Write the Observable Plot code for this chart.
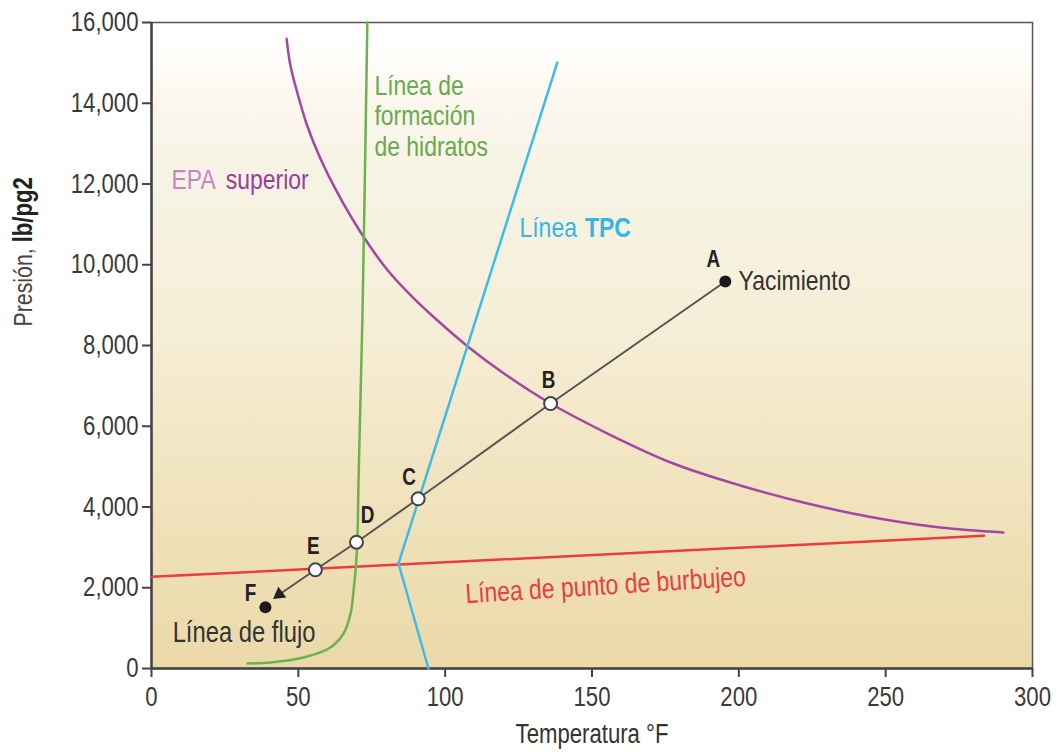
<!DOCTYPE html>
<html>
<head>
<meta charset="utf-8">
<script src="https://cdn.jsdelivr.net/npm/d3@7"></script>
<script src="https://cdn.jsdelivr.net/npm/@observablehq/plot@0.6"></script>
<style>
  body { margin: 0; background: #ffffff; }
  #chart svg { display: block; }
</style>
</head>
<body>
<div id="chart"></div>
<script>
// ---- Data (temperature °F, pressure lb/pg2) ----
const xTicks = [0, 50, 100, 150, 200, 250, 300];
const yTicks = [0, 2000, 4000, 6000, 8000, 10000, 12000, 14000, 16000];

// Flow path points A..F
const pointNames = ["A", "B", "C", "D", "E", "F"];
const pointTemp  = [195.4, 135.9, 90.8, 69.8, 55.8, 38.8];
const pointPres  = [9585, 6563, 4203, 3128, 2445, 1519];
const pointOpen  = [false, true, true, true, true, false];

// Arrow head of the flow line (between E and F)
const arrowTemp = [43.5];
const arrowPres = [1834];

// EPA superior (upper asphaltene envelope)
const epaTemp = [46.0, 47.3, 49.6, 53.0, 57.5, 63.2, 71.2, 80.2, 88.2, 97.4, 107.9, 120.5, 135.9, 155.3, 177.7, 200.5, 223.4, 245.8, 268.6, 290.1];
const epaPres = [15596, 14935, 14274, 13449, 12632, 11797, 10806, 9882, 9248, 8619, 7965, 7282, 6563, 5820, 5077, 4533, 4087, 3740, 3492, 3368];

// Hydrate formation line
const hydTemp = [32.7, 40.5, 51.8, 60.9, 65.4, 67.8, 68.8, 69.5, 70.1, 70.5, 71.8, 73.5];
const hydPres = [124, 149, 272, 520, 867, 1362, 1932, 2427, 3170, 4656, 8619, 16000];

// TPC (wax appearance) line
const tpcTemp = [138.2, 84.1, 94.3];
const tpcPres = [15010, 2600, 0];

// Bubble point line
const bubTemp = [0, 283.5];
const bubPres = [2270, 3290];

// Annotations (text, temperature, pressure)
const annText = ["EPA", "superior", "Línea de\nformación\nde hidratos", "Línea", "TPC", "Yacimiento", "Línea de flujo", "Línea de punto de burbujeo"];
const annTemp = [6.8, 25.3, 75.9, 125.3, 147.6, 199.9, 7.2, 154.6];
const annPres = [12087, 12087, 13696, 10898, 10898, 9585, 892, 2056];

// ---- Build tables ----
const pts = pointNames.map((n, i) => ({name: n, t: pointTemp[i], p: pointPres[i], open: pointOpen[i]}));
const flow = pts.slice(0, 5).concat([{t: arrowTemp[0], p: arrowPres[0]}]);
const arrow = arrowTemp.map((t, i) => ({t, p: arrowPres[i]}));
const epa = epaTemp.map((t, i) => ({t, p: epaPres[i]}));
const hyd = hydTemp.map((t, i) => ({t, p: hydPres[i]}));
const tpc = tpcTemp.map((t, i) => ({t, p: tpcPres[i]}));
const bub = bubTemp.map((t, i) => ({t, p: bubPres[i]}));
const ann = annText.map((s, i) => ({s, t: annTemp[i], p: annPres[i]}));

const FONT = "'Liberation Sans Narrow', 'Arial Narrow', 'Liberation Sans', Arial, sans-serif";
const labelOffsets = {A: [-12, -22], B: [-2, -23], C: [-9, -21], D: [11, -27], E: [-2, -23], F: [-15, -14]};

const chart = Plot.plot({
  width: 1057,
  height: 756,
  marginLeft: 151,
  marginRight: 25,
  marginTop: 22,
  marginBottom: 88,
  style: {fontFamily: FONT, fontSize: "27px", color: "#333", background: "#ffffff", overflow: "visible"},
  x: {domain: [0, 300], ticks: xTicks, label: null},
  y: {domain: [0, 16000], ticks: yTicks, label: null},
  marks: [
    Plot.frame({fill: "url(#bggrad)", stroke: "#555", strokeWidth: 1.5}),
    Plot.axisX({ticks: xTicks, tickSize: 9, tickPadding: 9, tickFormat: d3.format(","), label: null, fontSize: 27, strokeWidth: 2, stroke: "#444", fill: "#3a3a3a"}),
    Plot.axisY({ticks: yTicks, tickSize: 9, tickPadding: 4, tickFormat: d3.format(","), label: null, fontSize: 27, strokeWidth: 2, stroke: "#444", fill: "#3a3a3a"}),
    Plot.ruleX([0], {stroke: "#444", strokeWidth: 2.5}),
    Plot.ruleY([0], {stroke: "#444", strokeWidth: 2.5}),
    // Curves
    Plot.line(bub, {x: "t", y: "p", stroke: "#ee3b3b", strokeWidth: 2.5}),
    Plot.line(epa, {x: "t", y: "p", stroke: "#a346a6", strokeWidth: 2.5, curve: "catmull-rom"}),
    Plot.line(hyd, {x: "t", y: "p", stroke: "#6cb24e", strokeWidth: 2.5, curve: "catmull-rom"}),
    Plot.line(tpc, {x: "t", y: "p", stroke: "#3cbde9", strokeWidth: 2.5}),
    // Flow line
    Plot.line(flow, {x: "t", y: "p", stroke: "#555", strokeWidth: 2}),
    Plot.dot(arrow, {x: "t", y: "p", symbol: "triangle", r: 5, fill: "#222", stroke: "none", rotate: -126.8}),
    Plot.dot(pts.filter(d => d.open), {x: "t", y: "p", r: 6.5, fill: "#ffffff", stroke: "#444", strokeWidth: 2}),
    Plot.dot(pts.filter(d => !d.open), {x: "t", y: "p", r: 6, fill: "#1a1a1a", stroke: "none"}),
    // Point letters
    ...pts.map(d => Plot.text([d], {x: "t", y: "p", text: "name", dx: labelOffsets[d.name][0], dy: labelOffsets[d.name][1], fontSize: 23, fontWeight: "bold", fill: "#222"})),
    // Annotations
    Plot.text([ann[0]], {x: "t", y: "p", text: "s", textAnchor: "start", fill: "#cc82c8", fontSize: 28}),
    Plot.text([ann[1]], {x: "t", y: "p", text: "s", textAnchor: "start", fill: "#9b3c9c", fontSize: 28}),
    Plot.text([ann[2]], {x: "t", y: "p", text: "s", textAnchor: "start", lineAnchor: "middle", lineHeight: 1.09, fill: "#69aa4e", fontSize: 28}),
    Plot.text([ann[3]], {x: "t", y: "p", text: "s", textAnchor: "start", fill: "#35b6e6", fontSize: 28}),
    Plot.text([ann[4]], {x: "t", y: "p", text: "s", textAnchor: "start", fill: "#35b6e6", fontSize: 28, fontWeight: "bold"}),
    Plot.text([ann[5]], {x: "t", y: "p", text: "s", textAnchor: "start", fill: "#333", fontSize: 28}),
    Plot.text([ann[6]], {x: "t", y: "p", text: "s", textAnchor: "start", fill: "#333", fontSize: 29}),
    Plot.text([ann[7]], {x: "t", y: "p", text: "s", textAnchor: "middle", rotate: -3.6, fill: "#e84040", fontSize: 28}),
    // Axis titles
    Plot.text(["Temperatura °F"], {frameAnchor: "bottom", dy: 74, fontSize: 27, fill: "#333"}),
    Plot.text(["Presión, lb/pg2"], {frameAnchor: "left", dx: -128, dy: -19, rotate: -90, fontSize: 26, fill: "#444"})
  ]
});

// Background gradient of the plot area
const svg = d3.select(chart);
const defs = svg.insert("defs", ":first-child");
const grad = defs.append("linearGradient").attr("id", "bggrad").attr("x1", 0).attr("y1", 0).attr("x2", 0).attr("y2", 1);
[[0, "#ffffff"], [0.05, "#fffefb"], [0.12, "#fcf7ee"], [0.25, "#f5f3e3"], [0.45, "#f6efd9"], [0.62, "#f3e7c7"], [0.8, "#eee0b7"], [1, "#ebd9a9"]]
  .forEach(([o, c]) => grad.append("stop").attr("offset", o).attr("stop-color", c));

// Bold unit in the y-axis title
svg.selectAll("text").each(function() {
  if (this.textContent === "Presión, lb/pg2") {
    const el = d3.select(this);
    el.text(null);
    el.append("tspan").text("Presión, ");
    el.append("tspan").attr("font-weight", "bold").attr("font-size", 27).attr("fill", "#222").text("lb/pg2");
  }
});

document.getElementById("chart").appendChild(chart);

// Condensed lettering: narrow the glyphs if no narrow face is installed
const narrowAvailable = (() => {
  const c = document.createElement("canvas").getContext("2d");
  c.font = "27px 'Liberation Sans Narrow', monospace"; const a = c.measureText("Temperatura").width;
  c.font = "27px monospace"; const b = c.measureText("Temperatura").width;
  return a !== b;
})();
if (!narrowAvailable) {
  const squeeze = 0.82;
  svg.selectAll("text").each(function() {
    const lines = Array.from(this.children).filter(c => c.tagName === "tspan" && c.hasAttribute("x"));
    const targets = lines.length ? lines : [this];
    targets.forEach(t => {
      const len = t.getComputedTextLength();
      if (len > 0) {
        t.setAttribute("textLength", (len * squeeze).toFixed(2));
        t.setAttribute("lengthAdjust", "spacingAndGlyphs");
      }
    });
  });
}
</script>
</body>
</html>
